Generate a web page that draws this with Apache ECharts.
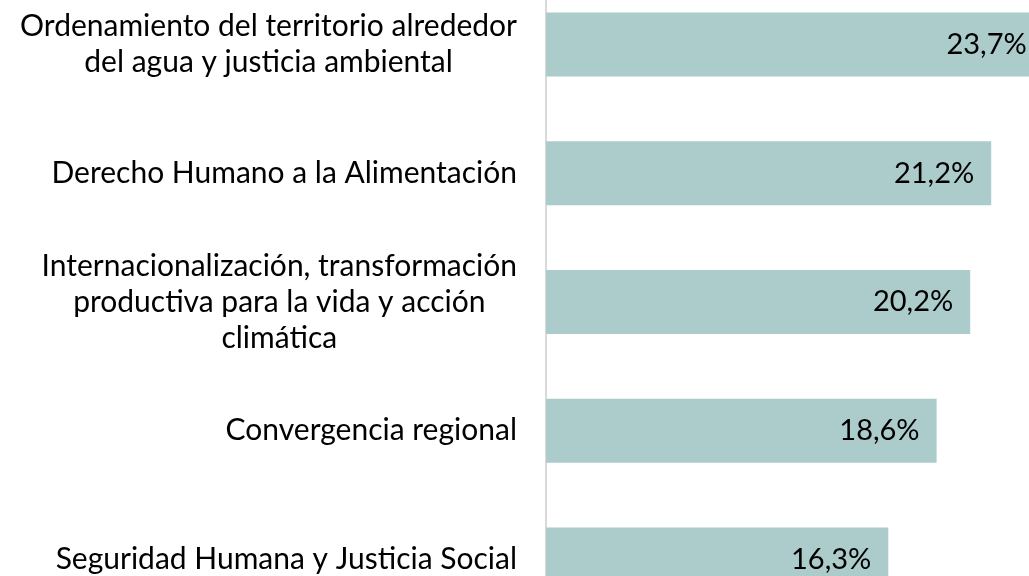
<!DOCTYPE html>
<html>
<head>
<meta charset="utf-8">
<script src="https://cdn.jsdelivr.net/npm/echarts@6/dist/echarts.min.js"></script>
<style>
  html, body { margin: 0; padding: 0; background: #fff; overflow: hidden; width: 1029px; height: 576px; }
  /* plot area runs past the window edges like the cropped original */
  #chart { position: absolute; left: 0; top: -20px; width: 1050px; height: 644px; }
</style>
</head>
<body>
<div id="chart"></div>
<script>
const categories = [
  'Ordenamiento del territorio alrededor\ndel agua y justicia ambiental',
  'Derecho Humano a la Alimentación',
  'Internacionalización, transformación\nproductiva para la vida y acción\nclimática',
  'Convergencia regional',
  'Seguridad Humana y Justicia Social',
];
const values = [23.7, 21.2, 20.2, 18.6, 16.3];

const chart = echarts.init(document.getElementById('chart'));

const option = {
  animation: false,
  textStyle: { fontFamily: 'Lato' },
  grid: {
    left: 546,
    right: 0,
    top: 0,
    bottom: 0,
    containLabel: false,
  },
  xAxis: {
    type: 'value',
    min: 0,
    max: 24,
    show: false,
  },
  yAxis: {
    type: 'category',
    inverse: true,
    data: categories,
    axisTick: { show: false },
    axisLine: {
      show: true,
      lineStyle: { color: '#d9d9d9', width: 2 },
    },
    axisLabel: {
      margin: 29,
      fontSize: 30,
      color: '#000',
      lineHeight: 36,
      // each line centred inside the right-aligned block
      formatter: (v) => v.split('\n').map((s) => '{c|' + s + '}').join('\n'),
      rich: {
        c: { align: 'center', fontSize: 30, lineHeight: 36, color: '#000', fontFamily: 'Lato' },
      },
    },
    splitLine: { show: false },
  },
  series: [
    {
      type: 'bar',
      data: values,
      barWidth: 64,
      itemStyle: { color: '#accbcb' },
      label: {
        show: true,
        position: 'insideRight',
        distance: 17,
        fontSize: 29,
        color: '#000',
        fontFamily: 'Lato',
        formatter: (p) => p.value.toFixed(1).replace('.', ',') + '%',
      },
    },
  ],
};

chart.setOption(option);
</script>
</body>
</html>
